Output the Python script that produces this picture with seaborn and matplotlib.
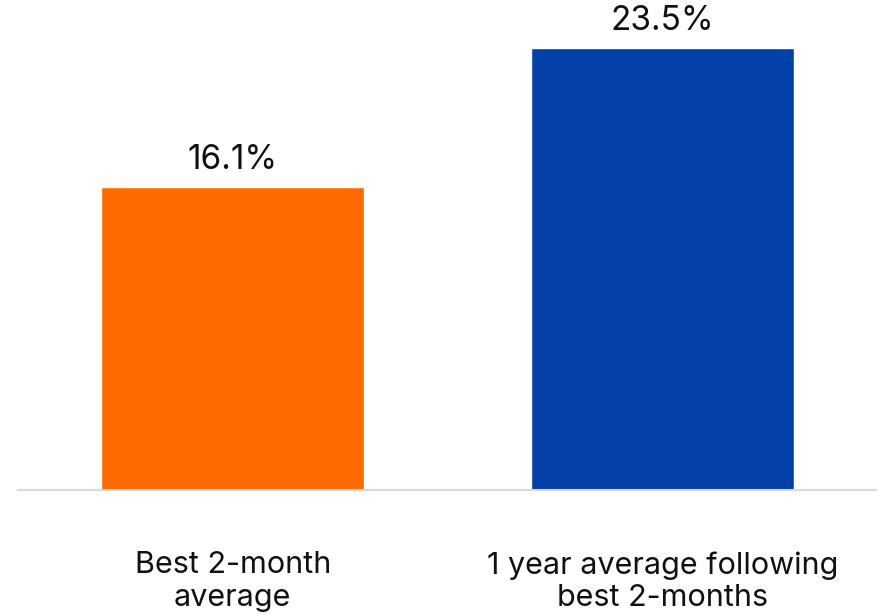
import matplotlib
matplotlib.use("Agg")
import matplotlib.pyplot as plt
import seaborn as sns
import pandas as pd

categories = ["Best 2-month\naverage", "1 year average following\nbest 2-months"]
values = [16.1, 23.5]
colors = ["#FF6A00", "#0340A8"]

sns.set_theme(style="white")
plt.rcParams["font.family"] = ["Inter", "DejaVu Sans"]

df = pd.DataFrame({"cat": categories, "val": values})

fig = plt.figure(figsize=(8.77, 6.16), dpi=100)
ax = fig.add_axes([18 / 877, 126 / 616, 859 / 877, 470 / 616])
sns.barplot(data=df, x="cat", y="val", hue="cat", palette=colors, width=0.613,
            legend=False, ax=ax, saturation=1)

ax.set_xlim(-0.5, 1.5)
ax.set_ylim(0, 25)
ax.set_xlabel("")
ax.set_ylabel("")
ax.set_yticks([])
for s in ["top", "right", "left"]:
    ax.spines[s].set_visible(False)
ax.spines["bottom"].set_color("#D9D9D9")
ax.spines["bottom"].set_linewidth(1.5)
ax.tick_params(axis="x", length=0, pad=44, labelsize=22, labelcolor="#111111")
for t in ax.get_xticklabels():
    t.set_linespacing(1.2)

for c in ax.containers:
    ax.bar_label(c, labels=[f"{v:.1f}%" for v in c.datavalues], padding=8,
                 fontsize=24, color="#111111")

fig.savefig("out.png", dpi=100)
